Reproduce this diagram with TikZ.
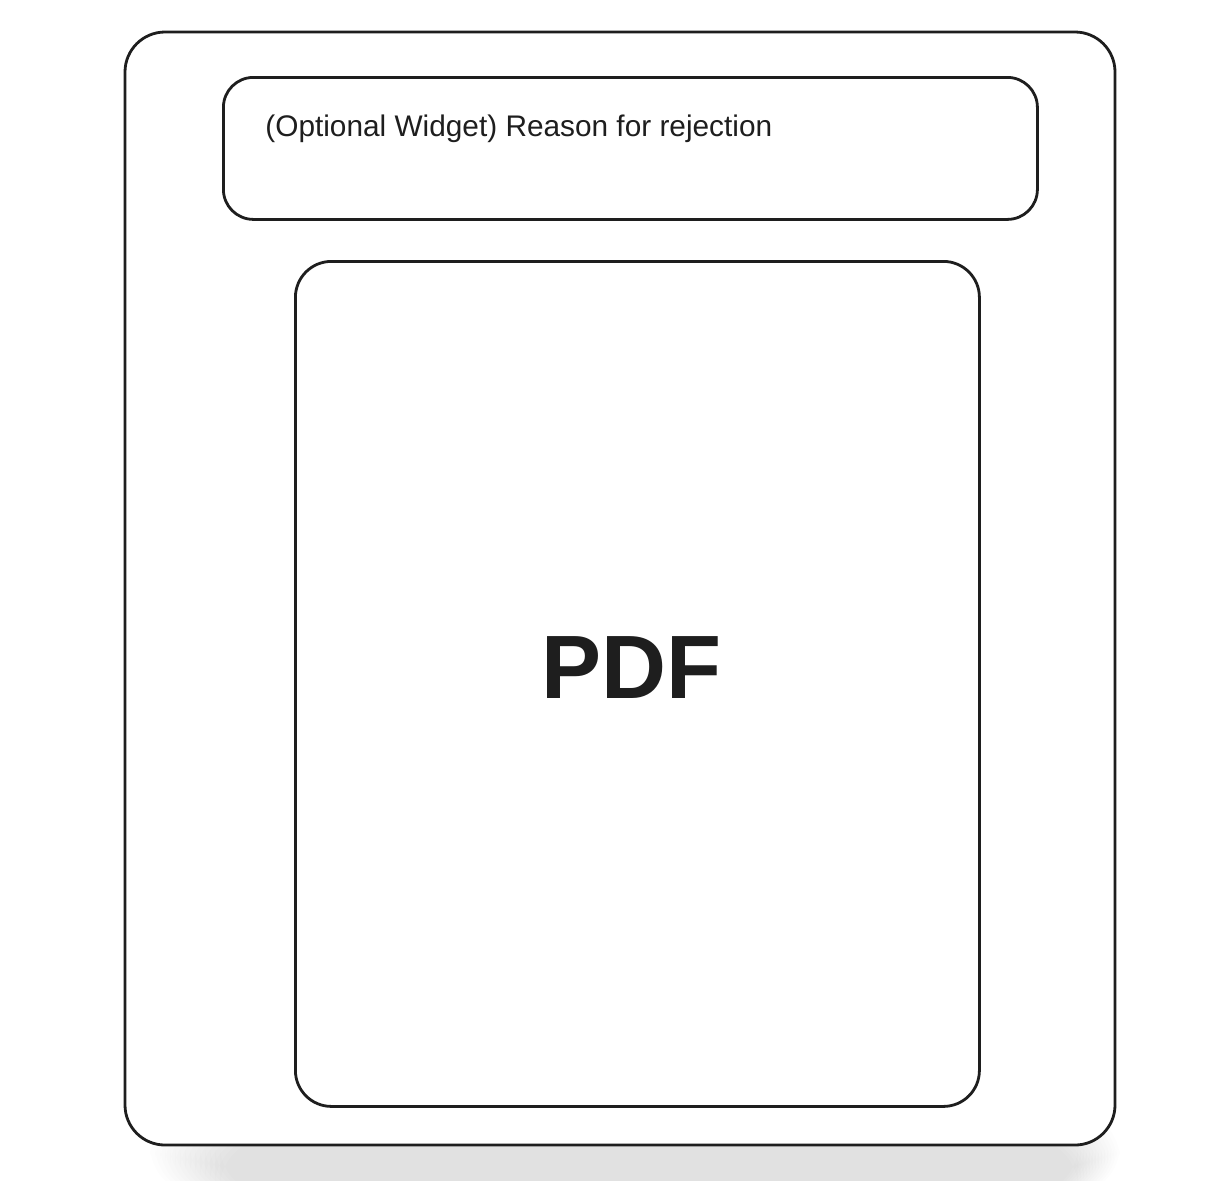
\documentclass[tikz,border=0pt]{standalone}
\usepackage{fontspec}
\setmainfont{Liberation Sans}
\definecolor{ink}{HTML}{1E1E1E}
\begin{document}
\begin{tikzpicture}[x=0.5pt,y=-0.5pt,
  box/.style={draw=ink,line width=1.4pt,fill=white},
  lbl/.style={text=ink,inner sep=0pt}]
\useasboundingbox (0,0) rectangle (1218,1180);
\fill[white] (0,0) rectangle (1218,1180);
% soft shadow under outer frame
\foreach \i in {0,...,14}{
  \fill[black,opacity=0.006,rounded corners=25pt]
    (150+\i*5,1110+\i*2) rectangle (1120-\i*3,1195);
}
\draw[box,rounded corners=20pt] (125,32) rectangle (1115,1145);
\node[box,rounded corners=15pt,minimum width=407pt,minimum height=71pt,anchor=north west,inner sep=0pt] (top) at (222,76) {};
\node[lbl,anchor=base west,font=\fontsize{14.9}{17}\selectfont] (reason) at (265,136) {(Optional Widget) Reason for rejection};
\node[box,rounded corners=18pt,minimum width=342pt,minimum height=422.5pt,anchor=north west,inner sep=0pt] (pdf) at (294,260) {};
\node[lbl,font=\fontsize{45}{50}\selectfont\bfseries] (pdftext) at (631,668) {PDF};
\end{tikzpicture}
\end{document}
